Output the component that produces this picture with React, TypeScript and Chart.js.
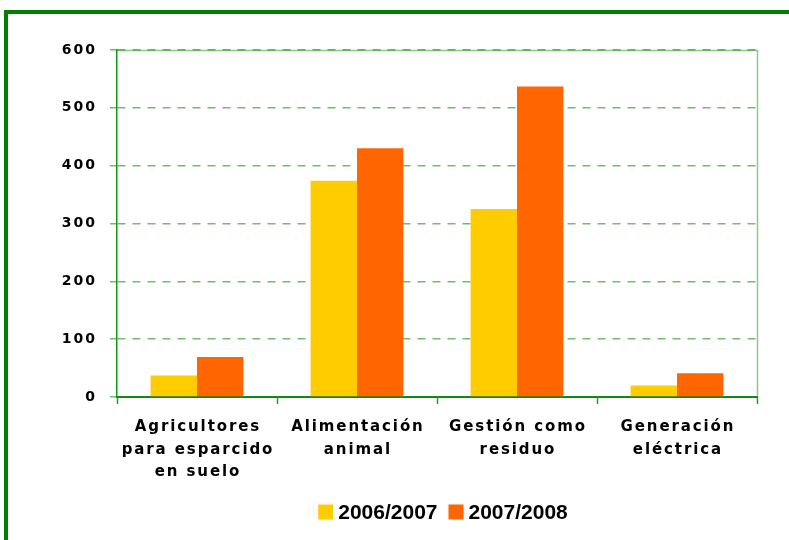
import React, { useEffect, useRef } from "react";
import { Chart, registerables } from "chart.js";

Chart.register(...registerables);

const categories: string[][] = [
  ["Agricultores", "para esparcido", "en suelo"],
  ["Alimentación", "animal"],
  ["Gestión como", "residuo"],
  ["Generación", "eléctrica"],
];
const seriesLabels = ["2006/2007", "2007/2008"];
const values2006 = [37, 374, 325, 20];
const values2008 = [69, 430, 537, 41];
const seriesColors = ["#FFCC00", "#FF6600"];
const yTicks = [0, 100, 200, 300, 400, 500, 600];

const FONT = "'Liberation Sans', Arial, sans-serif";
const TICK_FONT = "'DejaVu Sans', Verdana, sans-serif";

const spacingPlugin = {
  id: "letterSpacing",
  beforeDraw(chart: any) {
    for (const id of Object.keys(chart.scales)) {
      const s: any = chart.scales[id];
      if (!s.__patched) {
        const orig = s.drawLabels;
        const spacing = id === "x" ? 1.9 : 2;
        s.drawLabels = function (area: any) {
          const ctx = this.ctx;
          ctx.save();
          ctx.letterSpacing = spacing + "px";
          if (id === "x") ctx.translate(spacing / 2, 0);
          else ctx.translate(spacing, 0);
          orig.call(this, area);
          ctx.restore();
        };
        s.__patched = true;
      }
    }
  },
};

const framePlugin = {
  id: "frame",
  beforeDatasetsDraw(chart: any) {
    const { ctx, chartArea } = chart;
    ctx.save();
    ctx.strokeStyle = "rgba(0,140,0,0.45)";
    ctx.lineWidth = 1.5;
    ctx.beginPath();
    ctx.moveTo(chartArea.left, chartArea.top + 0.5);
    ctx.lineTo(chartArea.right + 0.5, chartArea.top + 0.5);
    ctx.lineTo(chartArea.right + 0.5, chartArea.bottom);
    ctx.stroke();
    ctx.restore();
  },
};

const legendPlugin = {
  id: "customLegend",
  afterDraw(chart: any) {
    const { ctx, chartArea } = chart;
    const ds = chart.data.datasets;
    ctx.save();
    ctx.font = `bold 21px ${FONT}`;
    ctx.textBaseline = "middle";
    ctx.textAlign = "left";
    const box = 15;
    const gapText = 5;
    const gapItem = 11;
    const widths = ds.map((d: any) => ctx.measureText(d.label).width);
    let total = 0;
    widths.forEach((w: number, i: number) => {
      total += box + gapText + w + (i < widths.length - 1 ? gapItem : 0);
    });
    let x = (chartArea.left + chartArea.right) / 2 + 6 - total / 2;
    const cy = 512;
    ds.forEach((d: any, i: number) => {
      ctx.fillStyle = d.backgroundColor;
      ctx.fillRect(x, cy - box / 2, box, box);
      x += box + gapText;
      ctx.fillStyle = "#000";
      ctx.fillText(d.label, x, cy + 1);
      x += widths[i] + gapItem;
    });
    ctx.restore();
  },
};

export default function App() {
  const ref = useRef<HTMLCanvasElement>(null);
  useEffect(() => {
    if (!ref.current) return;
    const chart = new Chart(ref.current, {
      type: "bar",
      data: {
        labels: categories,
        datasets: [
          { label: seriesLabels[0], data: values2006, backgroundColor: seriesColors[0] },
          { label: seriesLabels[1], data: values2008, backgroundColor: seriesColors[1] },
        ],
      },
      options: {
        animation: false,
        responsive: false,
        devicePixelRatio: 1,
        layout: { padding: { left: 0, right: 32, top: 50, bottom: 0 } },
        datasets: { bar: { categoryPercentage: 0.58, barPercentage: 1 } },
        plugins: { legend: { display: false }, tooltip: { enabled: false } },
        scales: {
          x: {
            afterFit: (s: any) => {
              s.height = 143;
            },
            grid: {
              drawOnChartArea: false,
              drawTicks: true,
              tickLength: 7,
              tickColor: "#2a9a2a",
              tickWidth: 1.5,
            },
            border: { display: true, color: "#108a10", width: 2 },
            ticks: {
              color: "#000",
              padding: 12,
              font: { family: TICK_FONT, size: 15, weight: "bold", lineHeight: 1.5 },
              maxRotation: 0,
              autoSkip: false,
            },
          },
          y: {
            min: 0,
            max: 600,
            afterFit: (s: any) => {
              s.width = 117;
            },
            afterBuildTicks: (s: any) => {
              s.ticks = yTicks.map((v) => ({ value: v }));
            },
            grid: {
              color: "rgba(0,130,0,0.55)",
              lineWidth: 1.5,
              drawTicks: true,
              tickLength: 7,
              tickColor: "rgba(0,130,0,0.55)",
              tickWidth: 1.5,
            },
            border: { display: true, color: "#119911", width: 1.5, dash: [8, 7] },
            ticks: {
              color: "#000",
              padding: 15,
              font: { family: TICK_FONT, size: 14, weight: "bold" },
            },
          },
        },
      },
      plugins: [spacingPlugin, framePlugin, legendPlugin],
    });
    return () => chart.destroy();
  }, []);
  return (
    <div
      style={{
        position: "fixed",
        left: 0,
        top: 0,
        width: 789,
        height: 540,
        overflow: "hidden",
        background: "#fff",
      }}
    >
      <div
        style={{
          position: "absolute",
          left: 4,
          top: 10,
          width: 1000,
          height: 1000,
          border: "4px solid #008000",
          boxSizing: "border-box",
        }}
      />
      <canvas
        ref={ref}
        width={789}
        height={540}
        style={{ position: "absolute", left: 0, top: 0, width: 789, height: 540 }}
      />
    </div>
  );
}
